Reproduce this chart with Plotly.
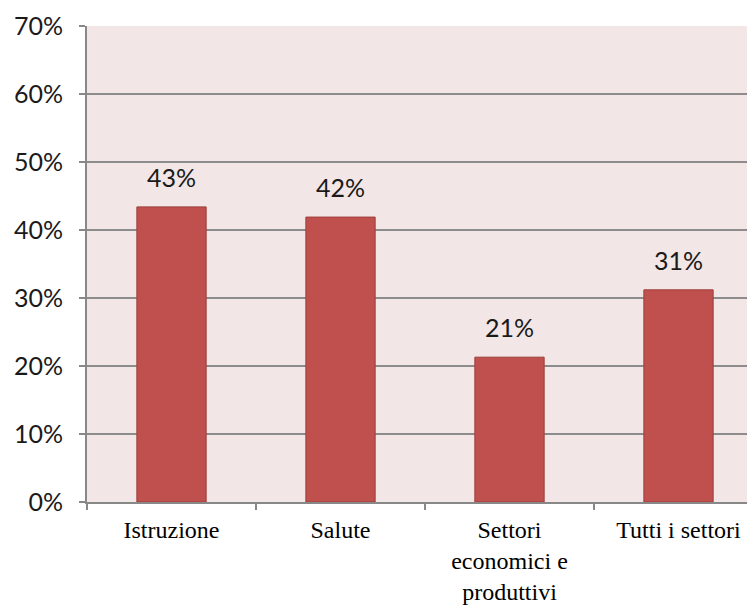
import plotly.graph_objects as go

categories = ["Istruzione", "Salute", "Settori<br>economici e<br>produttivi", "Tutti i settori"]
values = [0.434, 0.419, 0.213, 0.312]
labels = ["43%", "42%", "21%", "31%"]
ytick_vals = [0, 0.1, 0.2, 0.3, 0.4, 0.5, 0.6, 0.7]
ytick_text = ["0%", "10%", "20%", "30%", "40%", "50%", "60%", "70%"]

fig = go.Figure(go.Bar(
    x=categories, y=values,
    marker=dict(color="#C0504D", line=dict(color="#9E3E3B", width=1)),
    width=0.41,
    cliponaxis=False,
))

for c, v, t in zip(categories, values, labels):
    fig.add_annotation(
        x=c, y=v, text=t, showarrow=False, yanchor="bottom", yshift=13,
        font=dict(family="Lato, Open Sans, sans-serif", size=25, color="#1a1a1a"),
    )

fig.update_layout(
    width=755, height=608,
    margin=dict(l=79, r=0, t=18, b=114, autoexpand=False),
    paper_bgcolor="white",
    plot_bgcolor="#F2E6E6",
    showlegend=False,
)
fig.update_xaxes(
    range=[-0.5, 3.5],
    tickson="boundaries", ticks="outside", ticklen=6, tickcolor="#888888", tickwidth=2,
    showline=True, linecolor="#888888", linewidth=2,
    showgrid=False,
    tickfont=dict(family="Liberation Serif, Times New Roman, serif", size=24, color="black"),
    ticklabelstandoff=5,
    automargin=False,
)
fig.update_yaxes(
    range=[0, 0.7], tickvals=ytick_vals, ticktext=ytick_text,
    ticks="outside", ticklen=6, tickcolor="#888888", tickwidth=2,
    showline=True, linecolor="#888888", linewidth=2,
    showgrid=True, gridcolor="#8C8C8C", gridwidth=2,
    zeroline=False,
    tickfont=dict(family="Lato, Open Sans, sans-serif", size=25, color="#1a1a1a"),
    ticklabelstandoff=11,
    automargin=False,
)
fig.write_html("out.html")
